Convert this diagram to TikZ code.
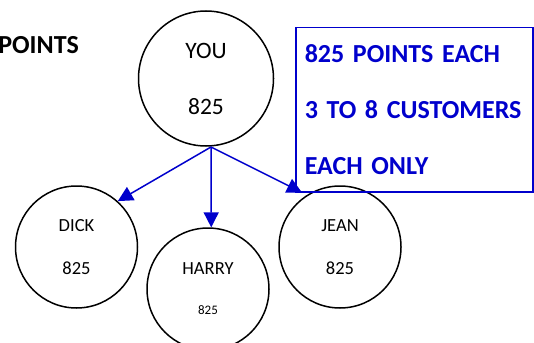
\documentclass[tikz,border=0pt]{standalone}
\usepackage{fontspec}
\setmainfont{Carlito}
\usepackage{tikz}
\usetikzlibrary{arrows.meta}
\definecolor{pointblue}{RGB}{0,0,204}

\begin{document}
\begin{tikzpicture}[x=1pt,y=-1pt,
    member/.style={circle,draw=black,line width=1.5pt,minimum size=122pt,inner sep=0pt,align=center,font=\fontsize{18.5}{43}\selectfont},
    link/.style={draw=pointblue,line width=1.5pt,-{Triangle[length=15pt,width=15pt]}}]
  \useasboundingbox (0,0) rectangle (534,342);
  \node (title) [anchor=base east,inner sep=0pt,font=\fontsize{26}{26}\bfseries] at (79,53.5) {POINTS};
  \node (you) [member,minimum size=135pt,font=\fontsize{23.5}{56}\selectfont] at (206,78.5) {YOU\\825};
  \node (dick) [member] at (76.5,247) {DICK\\825};
  \node (harry) [member,font=\fontsize{18.5}{40}\selectfont] at (208,289) {HARRY\\{\fontsize{13}{40}\selectfont 825}};
  \node (jean) [member] at (340,247) {JEAN\\825};
  \node (note) [draw=pointblue,line width=1.5pt,text=pointblue,anchor=north west,minimum width=237pt,minimum height=164pt,text width=219pt,inner xsep=9pt,align=left,font=\fontsize{26}{56}\bfseries] at (295,27) {825 POINTS EACH\\3 TO 8 CUSTOMERS\\EACH ONLY};
  \coordinate (split) at (211,147);
  \draw[link] (split) -- (dick.48);
  \draw[link] (split) -- (harry.87);
  \draw[link] (split) -- ([xshift=7pt]note.south west);
\end{tikzpicture}
\end{document}
